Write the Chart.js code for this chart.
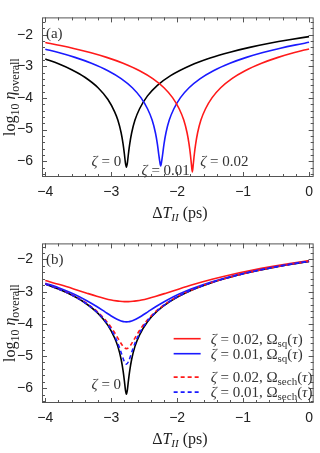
<!DOCTYPE html>
<html>
<head>
<meta charset="utf-8">
<script src="https://cdn.jsdelivr.net/npm/chart.js@4.4.0/dist/chart.umd.min.js"></script>
<style>
body { margin: 0; background: #fff; }
canvas { position: absolute; left: 0; }
#chartA { top: 0; }
#chartB { top: 226px; }
</style>
</head>
<body>
<canvas id="chartA" width="320" height="226"></canvas>
<canvas id="chartB" width="320" height="227"></canvas>
<script>
// tick labels
var xTicks = [-4, -3, -2, -1, 0];
var yTicks = [-6, -5, -4, -3, -2];

// panel (a): zeta = 0, 0.01, 0.02
var blackX = [-4, -3.8, -3.6, -3.4, -3.2, -3.05, -2.95, -2.9, -2.85, -2.82, -2.8, -2.785, -2.77, -2.755, -2.74, -2.72, -2.69, -2.64, -2.57, -2.45, -2.3, -2.1, -1.8, -1.5, -1.2, -0.9, -0.6, -0.3, 0];
var blackY = [-2.763, -2.917, -3.105, -3.344, -3.676, -4.049, -4.432, -4.70, -5.10, -5.46, -5.78, -6.05, -6.19, -6.05, -5.78, -5.46, -5.10, -4.70, -4.341, -3.933, -3.599, -3.291, -2.969, -2.735, -2.551, -2.399, -2.270, -2.158, -2.058];

var blueAX = [-4, -3.8, -3.55, -3.3, -3.05, -2.85, -2.68, -2.55, -2.45, -2.38, -2.33, -2.30, -2.28, -2.265, -2.25, -2.235, -2.22, -2.2, -2.17, -2.12, -2.05, -1.95, -1.82, -1.65, -1.45, -1.2, -0.95, -0.7, -0.45, -0.2, 0];
var blueAY = [-2.457, -2.562, -2.715, -2.901, -3.137, -3.387, -3.676, -3.989, -4.341, -4.70, -5.10, -5.46, -5.78, -6.0, -6.15, -6.0, -5.78, -5.46, -5.10, -4.70, -4.341, -3.989, -3.676, -3.387, -3.137, -2.901, -2.715, -2.562, -2.432, -2.319, -2.239];

var redAX = [-4, -3.77, -3.57, -3.32, -3.07, -2.82, -2.57, -2.37, -2.2, -2.07, -1.97, -1.90, -1.85, -1.82, -1.80, -1.785, -1.77, -1.755, -1.74, -1.72, -1.69, -1.64, -1.57, -1.47, -1.34, -1.17, -0.97, -0.72, -0.47, -0.22, 0];
var redAY = [-2.246, -2.341, -2.432, -2.562, -2.715, -2.901, -3.137, -3.387, -3.676, -3.989, -4.341, -4.70, -5.10, -5.46, -5.78, -6.08, -6.34, -6.08, -5.78, -5.46, -5.10, -4.70, -4.341, -3.989, -3.676, -3.387, -3.137, -2.901, -2.715, -2.562, -2.447];

// panel (b): square vs sech pulses
var bX = [-4, -3.77, -3.57, -3.37, -3.22, -3.10, -3.0, -2.92, -2.87, -2.83, -2.80, -2.77, -2.74, -2.71, -2.67, -2.62, -2.54, -2.44, -2.32, -2.17, -1.97, -1.77, -1.47, -1.17, -0.87, -0.57, -0.27, 0];
var redSqY = [-2.655, -2.788, -2.914, -3.046, -3.142, -3.212, -3.260, -3.287, -3.300, -3.306, -3.309, -3.310, -3.309, -3.306, -3.300, -3.287, -3.260, -3.212, -3.142, -3.046, -2.914, -2.788, -2.617, -2.467, -2.337, -2.221, -2.118, -2.034];
var blueSqY = [-2.735, -2.901, -3.073, -3.280, -3.461, -3.621, -3.756, -3.852, -3.898, -3.924, -3.936, -3.939, -3.936, -3.924, -3.898, -3.852, -3.756, -3.621, -3.461, -3.280, -3.073, -2.901, -2.690, -2.518, -2.374, -2.249, -2.140, -2.053];
var redSechY = [-2.759, -2.937, -3.127, -3.370, -3.606, -3.851, -4.112, -4.370, -4.547, -4.676, -4.744, -4.770, -4.744, -4.676, -4.547, -4.370, -4.112, -3.851, -3.606, -3.370, -3.127, -2.937, -2.711, -2.532, -2.384, -2.257, -2.146, -2.057];
var blueSechY = [-2.762, -2.941, -3.133, -3.381, -3.626, -3.887, -4.181, -4.505, -4.770, -5.013, -5.178, -5.252, -5.178, -5.013, -4.770, -4.505, -4.181, -3.887, -3.626, -3.381, -3.133, -2.941, -2.714, -2.534, -2.385, -2.258, -2.147, -2.058];

var RED = '#ff1a1a', BLUE = '#1a1aff', BLACK = '#000000';
var serif = '"Liberation Serif", "Times New Roman", serif';
var sans = '"Liberation Sans", Arial, sans-serif';

function pts(xs, ys) {
  return xs.map(function (x, i) { return { x: x, y: ys[i] }; });
}

function line(data, color, dashed) {
  return {
    data: data,
    borderColor: color,
    borderWidth: 1.6,
    borderDash: dashed ? [4, 3] : [],
    pointRadius: 0,
    fill: false,
    cubicInterpolationMode: 'monotone'
  };
}

function minus(v) { return String(v).replace('-', '\u2212'); }

function drawRich(ctx, parts, x, y, align) {
  var w = 0;
  parts.forEach(function (p) { ctx.font = p.f; w += ctx.measureText(p.t).width; });
  var cx = align === 'right' ? x - w : (align === 'center' ? x - w / 2 : x);
  ctx.textAlign = 'left';
  ctx.textBaseline = 'alphabetic';
  parts.forEach(function (p) {
    ctx.font = p.f;
    ctx.fillText(p.t, cx, y + (p.dy || 0));
    cx += ctx.measureText(p.t).width;
  });
}

function F(size, style) { return (style ? style + ' ' : '') + size + 'px ' + serif; }

function zetaLabel(val) {
  return [{ t: '\u03b6', f: F(15, 'italic') }, { t: ' = ' + val, f: F(15) }];
}

// extra text per panel, keyed by canvas id
var panelNotes = {};

// frame with inward ticks on all four sides, axis titles
var framePlugin = {
  id: 'frame',
  afterDatasetsDraw: function (chart) {
    var ctx = chart.ctx, a = chart.chartArea, xs = chart.scales.x, ys = chart.scales.y;
    ctx.save();
    ctx.strokeStyle = '#555';
    ctx.lineWidth = 1;
    ctx.strokeRect(a.left + 0.5, a.top + 0.5, a.right - a.left - 1, a.bottom - a.top - 1);
    ctx.beginPath();
    for (var i = -20; i <= 0; i++) {
      var px = Math.round(xs.getPixelForValue(i / 5)) + 0.5;
      var len = i % 5 === 0 ? 5 : 3;
      ctx.moveTo(px, a.bottom); ctx.lineTo(px, a.bottom - len);
      ctx.moveTo(px, a.top); ctx.lineTo(px, a.top + len);
    }
    for (var j = -32; j <= -8; j++) {
      var py = Math.round(ys.getPixelForValue(j / 5)) + 0.5;
      var l2 = j % 5 === 0 ? 5 : 3;
      ctx.moveTo(a.left, py); ctx.lineTo(a.left + l2, py);
      ctx.moveTo(a.right, py); ctx.lineTo(a.right - l2, py);
    }
    ctx.stroke();

    ctx.fillStyle = '#222';
    // x title
    drawRich(ctx, [
      { t: '\u0394', f: F(16) },
      { t: 'T', f: F(16, 'italic') },
      { t: 'II', f: F(11, 'italic'), dy: 3 },
      { t: ' (ps)', f: F(16) }
    ], (a.left + a.right) / 2 + 2, a.bottom + 41, 'center');
    // y title
    ctx.save();
    ctx.translate(15, (a.top + a.bottom) / 2);
    ctx.rotate(-Math.PI / 2);
    drawRich(ctx, [
      { t: 'log', f: F(16) },
      { t: '10', f: F(12), dy: 4 },
      { t: ' ', f: F(16) },
      { t: '\u03b7', f: F(16, 'italic') },
      { t: 'overall', f: F(12), dy: 4 }
    ], 0, 0, 'center');
    ctx.restore();

    var notes = panelNotes[chart.canvas.id];
    if (notes) notes(chart, ctx);
    ctx.restore();
  }
};

function config(datasets, yMin, yMax, padTop, padRight, xHeight) {
  return {
    type: 'line',
    data: { datasets: datasets },
    options: {
      responsive: false,
      animation: false,
      events: [],
      layout: { padding: { top: padTop, right: padRight, left: 0, bottom: 0 } },
      plugins: {
        legend: { display: false },
        tooltip: { enabled: false }
      },
      scales: {
        x: {
          type: 'linear', min: -4.05, max: 0.07,
          grid: { display: false, drawTicks: false },
          border: { display: false },
          afterBuildTicks: function (s) { s.ticks = xTicks.map(function (v) { return { value: v }; }); },
          afterFit: function (s) { s.height = xHeight; },
          ticks: { padding: 7, color: '#222', font: { family: sans, size: 14 }, callback: minus, maxRotation: 0 }
        },
        y: {
          type: 'linear', min: yMin, max: yMax,
          grid: { display: false, drawTicks: false },
          border: { display: false },
          afterBuildTicks: function (s) { s.ticks = yTicks.map(function (v) { return { value: v }; }); },
          afterFit: function (s) { s.width = 42; },
          ticks: { padding: 9, color: '#222', font: { family: sans, size: 14 }, callback: minus }
        }
      }
    },
    plugins: [framePlugin]
  };
}

panelNotes.chartA = function (chart, ctx) {
  var xs = chart.scales.x, ys = chart.scales.y;
  ctx.fillStyle = '#333';
  drawRich(ctx, [{ t: '(a)', f: F(15) }], xs.getPixelForValue(-3.99), ys.getPixelForValue(-1.95) + 5, 'left');
  drawRich(ctx, zetaLabel('0'), xs.getPixelForValue(-2.85), ys.getPixelForValue(-6.0) + 5, 'right');
  drawRich(ctx, zetaLabel('0.01'), xs.getPixelForValue(-2.54), ys.getPixelForValue(-6.265) + 5, 'left');
  drawRich(ctx, zetaLabel('0.02'), xs.getPixelForValue(-1.65), ys.getPixelForValue(-6.0) + 5, 'left');
};

var legendRows = [
  { color: RED, dashed: false, val: '0.02', sub: 'sq', gap: 0 },
  { color: BLUE, dashed: false, val: '0.01', sub: 'sq', gap: 15 },
  { color: RED, dashed: true, val: '0.02', sub: 'sech', gap: 23.4 },
  { color: BLUE, dashed: true, val: '0.01', sub: 'sech', gap: 15 }
];

panelNotes.chartB = function (chart, ctx) {
  var xs = chart.scales.x, ys = chart.scales.y, a = chart.chartArea;
  ctx.fillStyle = '#333';
  drawRich(ctx, [{ t: '(b)', f: F(15) }], xs.getPixelForValue(-3.99), ys.getPixelForValue(-2.0) + 5, 'left');
  drawRich(ctx, zetaLabel('0'), xs.getPixelForValue(-2.85), ys.getPixelForValue(-5.87) + 5, 'right');
  var y = a.top + 95.3;
  legendRows.forEach(function (r) {
    y += r.gap;
    ctx.save();
    ctx.strokeStyle = r.color;
    ctx.lineWidth = 1.6;
    ctx.setLineDash(r.dashed ? [4, 3] : []);
    ctx.beginPath();
    ctx.moveTo(a.right - 140, y); ctx.lineTo(a.right - 113, y);
    ctx.stroke();
    ctx.restore();
    ctx.fillStyle = '#333';
    drawRich(ctx, [
      { t: '\u03b6', f: F(15, 'italic') },
      { t: ' = ' + r.val + ', ', f: F(15) },
      { t: '\u03a9', f: F(15) },
      { t: r.sub, f: F(11), dy: 3 },
      { t: '(', f: F(15) },
      { t: '\u03c4', f: F(15, 'italic') },
      { t: ')', f: F(15) }
    ], a.right - 103, y + 5, 'left');
  });
};

new Chart(document.getElementById('chartA').getContext('2d'), config([
  line(pts(redAX, redAY), RED, false),
  line(pts(blueAX, blueAY), BLUE, false),
  line(pts(blackX, blackY), BLACK, false)
], -6.5, -1.45, 5, 3, 49));

new Chart(document.getElementById('chartB').getContext('2d'), config([
  line(pts(bX, blueSechY), BLUE, true),
  line(pts(bX, redSechY), RED, true),
  line(pts(bX, blueSqY), BLUE, false),
  line(pts(bX, redSqY), RED, false),
  line(pts(blackX, blackY), BLACK, false)
], -6.46, -1.5, 7, 4, 50));
</script>
</body>
</html>
